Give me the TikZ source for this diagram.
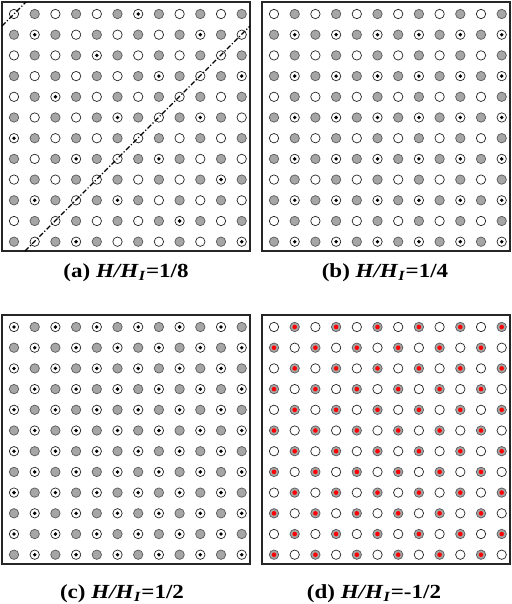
\documentclass[tikz,border=0pt]{standalone}
\usepackage{fontspec}
\setmainfont{Liberation Serif}

\tikzstyle{site}=[circle, inner sep=0pt, minimum size=9.4pt, line width=0.7pt]
\tikzstyle{empty site}=[site, draw=black!85, fill=white]
\tikzstyle{full site}=[site, draw=black!65, fill=black!35]
\tikzstyle{spin up}=[black]
\tikzstyle{spin red}=[red]
\tikzstyle{panel}=[draw=black!85, line width=1.5pt]
\tikzstyle{wall}=[black, line width=1.1pt, dash pattern=on 5pt off 2pt on 1.2pt off 2pt]
\tikzstyle{caption}=[font=\fontsize{20}{22}\selectfont\bfseries, xscale=1.15, transform shape]

\begin{document}
\begin{tikzpicture}[x=1pt, y=-1pt]
	\useasboundingbox (0,0) rectangle (511,604);

	% Four 12x12 lattices, checkerboard of empty and grey sites
	\foreach \p/\ox/\oy in {a/14/14, b/274/14, c/14/327, d/274/327}{
		\begin{scope}[shift={(\ox,\oy)}]
			\draw[panel] (-12,-12) rectangle (236,237);
			\foreach \r in {1,...,12}{
				\foreach \c in {1,...,12}{
					\pgfmathtruncatemacro{\odd}{mod(\r+\c,2)}
					\ifnum\odd=1
						\node[full site] (\p-\r-\c) at ({(\c-1)*20.7},{(\r-1)*20.7}) {};
					\else
						\node[empty site] (\p-\r-\c) at ({(\c-1)*20.7},{(\r-1)*20.7}) {};
					\fi
				}
			}
		\end{scope}
	}

	% (a) scattered spins and the dash-dot walls
	\foreach \r/\c in {1/7, 2/2, 2/10, 3/5, 4/8, 4/12, 5/3, 6/6, 6/10, 7/1, 8/4, 8/8,
		9/11, 10/2, 10/6, 11/9, 12/4, 12/12}{ \fill[spin up] (a-\r-\c) circle (1.9pt); }

	\coordinate (wall a1) at (2,26);
	\coordinate (wall a2) at (26,2);
	\coordinate (wall b1) at (25,251);
	\coordinate (wall b2) at (250,26);
	\draw[wall] (wall a1) -- (wall a2);
	\draw[wall] (wall b1) -- (wall b2);

	% (b) every other row and column
	\foreach \r in {2,4,...,12}{
		\foreach \c in {2,4,...,12}{ \fill[spin up] (b-\r-\c) circle (1.9pt); }
	}

	% (c) all empty sites carry a spin
	\foreach \r in {1,...,12}{
		\foreach \c in {1,3,...,11}{
			\pgfmathtruncatemacro{\cc}{\c+mod(\r+1,2)}
			\fill[spin up] (c-\r-\cc) circle (1.9pt);
		}
	}

	% (d) red spins on the grey sites
	\foreach \r in {1,...,12}{
		\foreach \c in {1,3,...,11}{
			\pgfmathtruncatemacro{\cc}{\c+mod(\r,2)}
			\fill[spin red] (d-\r-\cc) circle (2.3pt);
		}
	}

	\node[caption] (cap a) at (126,273) {(a) \textit{H/H}\textsubscript{\textit{I}}=1/8};
	\node[caption] (cap b) at (385,273) {(b) \textit{H/H}\textsubscript{\textit{I}}=1/4};
	\node[caption] (cap c) at (122,594) {(c) \textit{H/H}\textsubscript{\textit{I}}=1/2};
	\node[caption] (cap d) at (374,594) {(d) \textit{H/H}\textsubscript{\textit{I}}=-1/2};
\end{tikzpicture}
\end{document}
